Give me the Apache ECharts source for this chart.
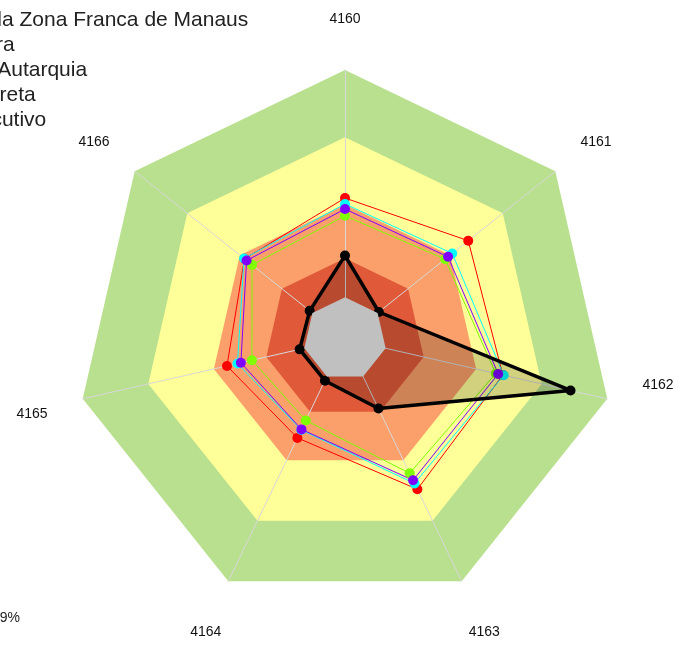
<!DOCTYPE html>
<html>
<head>
<meta charset="utf-8">
<script src="https://cdn.jsdelivr.net/npm/echarts@6/dist/echarts.min.js"></script>
<style>html,body{margin:0;padding:0;background:#fff}#c{width:678px;height:668px}</style>
</head>
<body>
<div id="c"></div>
<script>
// ---- data (indicators listed clockwise from the top) ----
const indicators = ['4160', '4161', '4162', '4163', '4164', '4165', '4166'];
const seriesNames = [
  'Superintendência da Zona Franca de Manaus',
  'Média geral Amostra',
  'Natureza Jurídica: Autarquia',
  'Administração: Indireta',
  'Esfera: Poder Executivo'
];
const suframa   = [31, 16.1, 86, 28.7, 17.2, 17.3, 16.8];
const mediaRed  = [52.4, 58.6, 60.2, 62, 40.8, 45, 47.8];
const mediaCyan = [50.2, 51, 60.5, 59.6, 37.5, 41, 48];
const autarquia = [48.3, 49, 58.4, 58.3, 37.3, 39.7, 46.8];
const indireta  = [45.8, 47.6, 57.5, 55.4, 33.6, 35.5, 44.2];
const bandLimits = [100, 75, 50, 30, 15.5];
const bandColors = ['#B9E08E', '#FFFF99', '#FBA06A', '#E05A3A', '#C0C0C0'];
const footnote = '39%';

// ---- chart ----
// ECharts lays radar indicators out counter-clockwise; reorder so they run clockwise.
const order = indicators.map((_, i) => (indicators.length - i) % indicators.length);
const ord = arr => order.map(i => arr[i]);
const chart = echarts.init(document.getElementById('c'));
const full = v => indicators.map(() => v);
const bandSeries = bandLimits.map((v, i) => ({
  type: 'radar',
  silent: true,
  z: i === bandLimits.length - 1 ? 8 : 1,
  symbol: 'none',
  lineStyle: { width: 0, opacity: 0 },
  areaStyle: { color: bandColors[i], opacity: 1 },
  data: [{ value: full(v) }]
}));
const lineSeries = (name, data, color, z) => ({
  type: 'radar',
  name: name,
  z: z,
  symbol: 'circle',
  symbolSize: 10,
  lineStyle: { color: color, width: 1 },
  itemStyle: { color: color },
  data: [{ value: ord(data), name: name }]
});
const nameFont = { fontSize: 14, color: '#111', fontFamily: 'Liberation Sans' };
chart.setOption({
  animation: false,
  title: {
    text: footnote,
    left: -13, top: 606,
    textStyle: { fontSize: 14, fontWeight: 'normal', color: '#222', fontFamily: 'Liberation Sans' }
  },
  legend: {
    orient: 'vertical',
    left: -214, top: 5,
    itemWidth: 25, itemHeight: 14, itemGap: 4,
    textStyle: { fontSize: 21, color: '#222', fontFamily: 'Liberation Sans', lineHeight: 20 },
    data: seriesNames
  },
  radar: {
    z: 3,
    center: [345, 339],
    radius: 269,
    startAngle: 90,
    splitNumber: 4,
    axisNameGap: 52,
    axisName: {
      color: '#111', fontSize: 14, fontFamily: 'Liberation Sans',
      align: 'center', verticalAlign: 'middle',
      formatter: n => n === '4162' ? '{up|' + n + '}' : (n === '4160' ? '{top|' + n + '}' : '{std|' + n + '}'),
      rich: {
        up: Object.assign({ padding: [6, 0, 56, 0] }, nameFont),
        top: Object.assign({ padding: [2, 0, 0, 0] }, nameFont),
        std: Object.assign({ padding: [7, 0, 0, 0] }, nameFont)
      }
    },
    axisLine: { lineStyle: { color: '#D8D8D8', width: 1 } },
    splitLine: { show: false },
    splitArea: { show: false },
    axisTick: { show: false },
    axisLabel: { show: false },
    indicator: ord(indicators).map(n => ({ name: n, min: 0, max: 100 }))
  },
  series: bandSeries.concat([
    lineSeries(seriesNames[1], mediaRed, '#FF0000', 4),
    lineSeries(seriesNames[4], indireta, '#7FFF00', 4),
    lineSeries(seriesNames[2], mediaCyan, '#00FFFF', 4),
    lineSeries(seriesNames[3], autarquia, '#7F00FF', 4),
    {
      type: 'radar',
      name: seriesNames[0],
      z: 6,
      symbol: 'circle',
      symbolSize: 10,
      lineStyle: { color: '#000', width: 3.5 },
      itemStyle: { color: '#000' },
      areaStyle: { color: 'rgba(0,0,0,0.25)' },
      data: [{ value: ord(suframa), name: seriesNames[0] }]
    }
  ])
});
</script>
</body>
</html>
